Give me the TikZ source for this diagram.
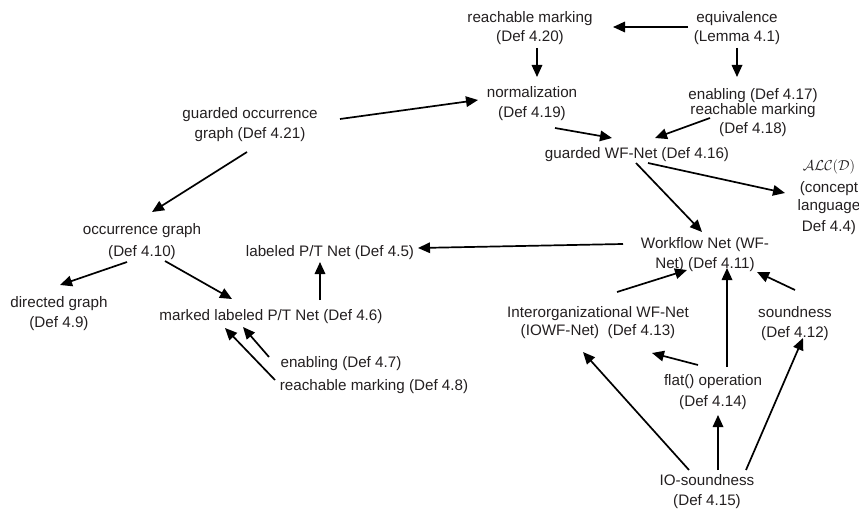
\documentclass[tikz,border=0pt]{standalone}
\usepackage{fontspec}
\setmainfont{Liberation Sans}
\usetikzlibrary{arrows.meta,calc}

\definecolor{inkgray}{RGB}{35,31,32}

\tikzset{
  lbl/.style={anchor=base, align=center, inner sep=0pt, text=inkgray,
              font=\fontsize{15.2}{20}\selectfont},
  arr/.style={draw=black, line width=1.7pt,
              -{Triangle[length=12pt,width=10.5pt]}},
}

\begin{document}
\begin{tikzpicture}[x=1pt,y=-1pt]
  \useasboundingbox (0,0) rectangle (859,511);
  \clip (0,0) rectangle (859,511);

  % concept nodes (placed by the baseline of their last line)
  \node[lbl] (reach20) at (530,42)  {reachable marking\\(Def 4.20)};
  \node[lbl] (equiv)   at (737,42)  {equivalence\\(Lemma 4.1)};
  \node[lbl] (norm)    at (532,117) {normalization\\(Def 4.19)};
  \node[lbl] (enab)    at (753,133) {enabling (Def 4.17)\\[-5pt]reachable marking\\[-1pt](Def 4.18)};
  \node[lbl] (grdocc)  at (250,138) {guarded occurrence\\graph (Def 4.21)};
  \node[lbl] (gwf)     at (637,158) {guarded WF-Net (Def 4.16)};
  \node[lbl] (alc)     at (829,231) {$\mathcal{ALC}(\mathcal{D})$\\[2pt](concept\\[-2pt]language\\[1pt]Def 4.4)};
  \node[lbl] (occ)     at (142,256) {occurrence graph\\[2pt](Def 4.10)};
  \node[lbl] (lpt)     at (330,256) {labeled P/T Net (Def 4.5)};
  \node[lbl] (wfn)     at (705,268) {Workflow Net (WF-\\Net) (Def 4.11)};
  \node[lbl] (ioc)     at (598,335) {Interorganizational WF-Net\\[-2pt](IOWF-Net)\ \ (Def 4.13)};
  \node[lbl] (sound)   at (795,337) {soundness\\(Def 4.12)};
  \node[lbl] (flat)    at (713,406) {flat() operation\\[1pt](Def 4.14)};
  \node[lbl] (ios)     at (707,505) {IO-soundness\\(Def 4.15)};
  \node[lbl] (dirg)    at (59,327)  {directed graph\\(Def 4.9)};
  \node[lbl] (mlpt)    at (271,320) {marked labeled P/T Net (Def 4.6)};
  \node[lbl] (en7)     at (341,367) {enabling (Def 4.7)};
  \node[lbl] (rm8)     at (374,390) {reachable marking (Def 4.8)};

  % dependencies
  \draw[arr] ($(equiv.base)+(-49,-15)$)  -- ($(reach20.base)+(83,-15)$);
  \draw[arr] ($(reach20.base)+(7,6)$)    -- ($(norm.base)+(5,-40)$);
  \draw[arr] ($(equiv.base)+(0,6)$)      -- ($(enab.base)+(-16,-56)$);
  \draw[arr] ($(norm.base)+(23,11)$)     -- ($(gwf.base)+(-25,-20)$);
  \draw[arr] ($(enab.base)+(-43,-15)$)   -- ($(gwf.base)+(18,-20)$);
  \draw[arr] ($(grdocc.base)+(90,-19)$)  -- ($(norm.base)+(-54,-17)$);
  \draw[arr] ($(grdocc.base)+(-3,14)$)   -- ($(occ.base)+(10,-44)$);
  \draw[arr] ($(gwf.base)+(11,5)$)       -- ($(alc.base)+(-44,-38)$);
  \draw[arr] ($(gwf.base)+(-1,5)$)       -- ($(wfn.base)+(-3,-36)$);
  \draw[arr] ($(wfn.base)+(-82,-24)$)    -- ($(lpt.base)+(88,-8)$);
  \draw[arr] ($(occ.base)+(-15,6)$)      -- ($(dirg.base)+(1,-42)$);
  \draw[arr] ($(occ.base)+(23,5)$)       -- ($(mlpt.base)+(-39,-21)$);
  \draw[arr] ($(mlpt.base)+(49,-20)$)    -- ($(lpt.base)+(-10,6)$);
  \draw[arr] ($(en7.base)+(-72,-10)$)    -- ($(mlpt.base)+(-28,7)$);
  \draw[arr] ($(rm8.base)+(-99,-10)$)    -- ($(mlpt.base)+(-46,8)$);
  \draw[arr] ($(ioc.base)+(19,-43)$)     -- ($(wfn.base)+(-18,2)$);
  \draw[arr] ($(flat.base)+(14,-39)$)    -- ($(wfn.base)+(22,0)$);
  \draw[arr] ($(sound.base)+(0,-47)$)    -- ($(wfn.base)+(52,4)$);
  \draw[arr] ($(flat.base)+(-15,-41)$)   -- ($(ioc.base)+(54,18)$);
  \draw[arr] ($(ios.base)+(-18,-35)$)    -- ($(ioc.base)+(-15,17)$);
  \draw[arr] ($(ios.base)+(11,-35)$)     -- ($(flat.base)+(5,9)$);
  \draw[arr] ($(ios.base)+(39,-35)$)     -- ($(sound.base)+(8,1)$);
\end{tikzpicture}
\end{document}
